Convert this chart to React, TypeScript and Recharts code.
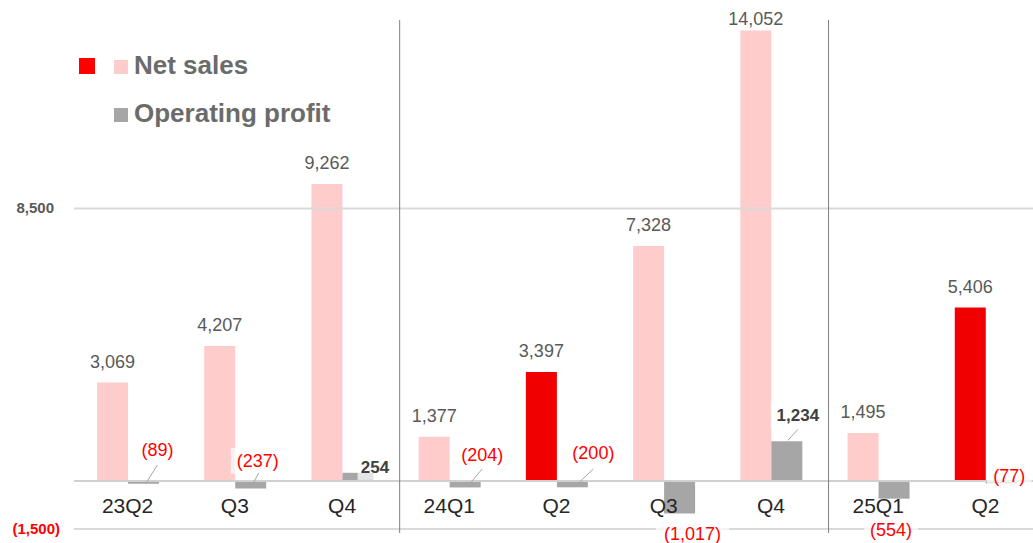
import React from 'react';
import { BarChart, Bar, XAxis, YAxis, ReferenceLine, LabelList, Cell } from 'recharts';

const quarterKeys = ['23Q2', '23Q3', '23Q4', '24Q1', '24Q2', '24Q3', '24Q4', '25Q1', '25Q2'];
const quarterLabels = ['23Q2', 'Q3', 'Q4', '24Q1', 'Q2', 'Q3', 'Q4', '25Q1', 'Q2'];
const netSales = [3069, 4207, 9262, 1377, 3397, 7328, 14052, 1495, 5406];
const operatingProfit = [-89, -237, 254, -204, -200, -1017, 1234, -554, -77];
const highlighted = ['24Q2', '25Q2'];
const yTicks = [-1500, 8500];
const yearStarts = ['24Q1', '25Q1'];

const FONT = '"Liberation Sans", Arial, sans-serif';
const PINK = '#FFCCCC';
const RED = '#F00000';
const GREY = '#A6A6A6';

// callout placement for the operating profit labels (Excel-style data callouts)
// from: 'zero' = measured from the zero line, 'end' = from the far end of the bar
const opCallouts = [
  { dx: 14, dy: -31, from: 'zero', lead: [2, 3, 14, -16] },
  { dx: 7, dy: -20, from: 'zero', lead: [0, 7, 8, -8] },
  { dx: 17, dy: -14, from: 'zero', bold: true },
  { dx: 17, dy: -26, from: 'zero', lead: [2, 6, 17, -12] },
  { dx: 21, dy: -28, from: 'zero', lead: [2, 6, 21, -12] },
  { dx: 13, dy: 20, from: 'end' },
  { dx: 11, dy: -26, from: 'end', bold: true, lead: [1, -1, 11, -12] },
  { dx: -3, dy: 31, from: 'end' },
  { dx: 8, dy: -5, from: 'zero' },
];

const rows = quarterKeys.map((key, i) => ({ key, sales: netSales[i], op: operatingProfit[i] }));

const fmt = (v: number) =>
  v < 0 ? `(${Math.abs(v).toLocaleString('en-US')})` : v.toLocaleString('en-US');

const QuarterTick = (props: any) => {
  const { x, y, payload } = props;
  const i = quarterKeys.indexOf(payload.value);
  return (
    <text x={x} y={y} dy={-24} textAnchor="middle" fontSize={21} fill="#262626" fontFamily={FONT}>
      {quarterLabels[i]}
    </text>
  );
};

// y value label drawn next to its grid line (accounting format: positives leave room for ")")
const gridLabel = (value: number) => (props: any) => {
  const { x, y } = props.viewBox;
  const neg = value < 0;
  return (
    <text x={neg ? x - 14 : x - 20} y={y} dy={5} textAnchor="end" fontSize={15} fontWeight="bold"
      fill={neg ? '#FF0000' : '#595959'} fontFamily={FONT}>
      {fmt(value)}
    </text>
  );
};

const SalesLabel = (props: any) => {
  const { x, y, width, height, value } = props;
  const top = Math.min(y, y + height);
  return (
    <text x={x + width / 2} y={Math.max(top - 15, 25)} textAnchor="middle" fontSize={18} fill="#595959" fontFamily={FONT}>
      {fmt(value)}
    </text>
  );
};

const OpLabel = (props: any) => {
  const { x, y, width, height, value, index } = props;
  const c = opCallouts[index];
  const top = Math.min(y, y + height);
  const bottom = Math.max(y, y + height);
  const zeroY = value < 0 ? top : bottom;
  const endY = value < 0 ? bottom : top;
  const cx = x + width / 2;
  const ay = c.from === 'zero' ? zeroY : endY;
  const tx = cx + c.dx;
  const ty = ay + c.dy;
  const text = fmt(value);
  const w = text.length * 9.6 + 6;
  return (
    <g>
      <rect x={tx - w / 2} y={ty - 13} width={w} height={26} fill="#fff" fillOpacity={0.7} />
      {c.lead && (
        <line x1={cx + c.lead[0]} y1={ay + c.lead[1]} x2={cx + c.lead[2]} y2={ay + c.lead[3]} stroke="#A6A6A6" strokeWidth={1} />
      )}
      <text x={tx} y={ty} dy={6} textAnchor="middle" fontSize={c.bold ? 17 : 18} fontWeight={c.bold ? 'bold' : 'normal'}
        fill={c.bold ? '#404040' : '#FF0000'} fontFamily={FONT}>
        {text}
      </text>
    </g>
  );
};

const Separator = (props: any) => {
  const { x1 } = props;
  return <line x1={x1 + 4} x2={x1 + 4} y1={20} y2={533} stroke="#7F7F7F" strokeWidth={1} />;
};

const legendText: React.CSSProperties = {
  position: 'absolute',
  fontFamily: FONT,
  fontWeight: 'bold',
  fontSize: 26,
  color: '#6B6B6B',
  lineHeight: '30px',
  whiteSpace: 'nowrap',
};

const swatch = (left: number, top: number, size: number, color: string): React.CSSProperties => ({
  position: 'absolute',
  left,
  top,
  width: size,
  height: size,
  background: color,
});

export default function App() {
  return (
    <div style={{ position: 'fixed', left: 0, top: 0, width: 1033, height: 543, overflow: 'hidden', background: '#fff' }}>
      <BarChart width={1039} height={543} data={rows} margin={{ top: 0, right: 0, left: 74, bottom: 0 }} barGap={0} barSize={31}>
        <XAxis dataKey="key" height={14} axisLine={false} tickLine={false} tick={<QuarterTick />} interval={0} />
        <YAxis hide domain={[-1500, 15000]} ticks={yTicks} />
        {yTicks.map((t) => (
          <ReferenceLine key={t} y={t} stroke="#D9D9D9" strokeWidth={2} label={gridLabel(t)} />
        ))}
        <ReferenceLine y={0} stroke="#D0D0D0" strokeWidth={2} />
        {yearStarts.map((k) => (
          <ReferenceLine key={k} x={k} position="start" stroke="#7F7F7F" shape={<Separator />} />
        ))}
        <Bar dataKey="sales" isAnimationActive={false}>
          {rows.map((r) => (
            <Cell key={r.key} fill={highlighted.includes(r.key) ? RED : PINK} />
          ))}
          <LabelList dataKey="sales" content={<SalesLabel />} />
        </Bar>
        <Bar dataKey="op" fill={GREY} isAnimationActive={false}>
          <LabelList dataKey="op" content={<OpLabel />} />
        </Bar>
      </BarChart>

      <div style={swatch(79, 58, 16, '#FF0000')} />
      <div style={swatch(114, 60, 14, PINK)} />
      <div style={{ ...legendText, left: 134, top: 50 }}>Net sales</div>
      <div style={swatch(114, 108, 14, GREY)} />
      <div style={{ ...legendText, left: 134, top: 98 }}>Operating profit</div>
    </div>
  );
}
